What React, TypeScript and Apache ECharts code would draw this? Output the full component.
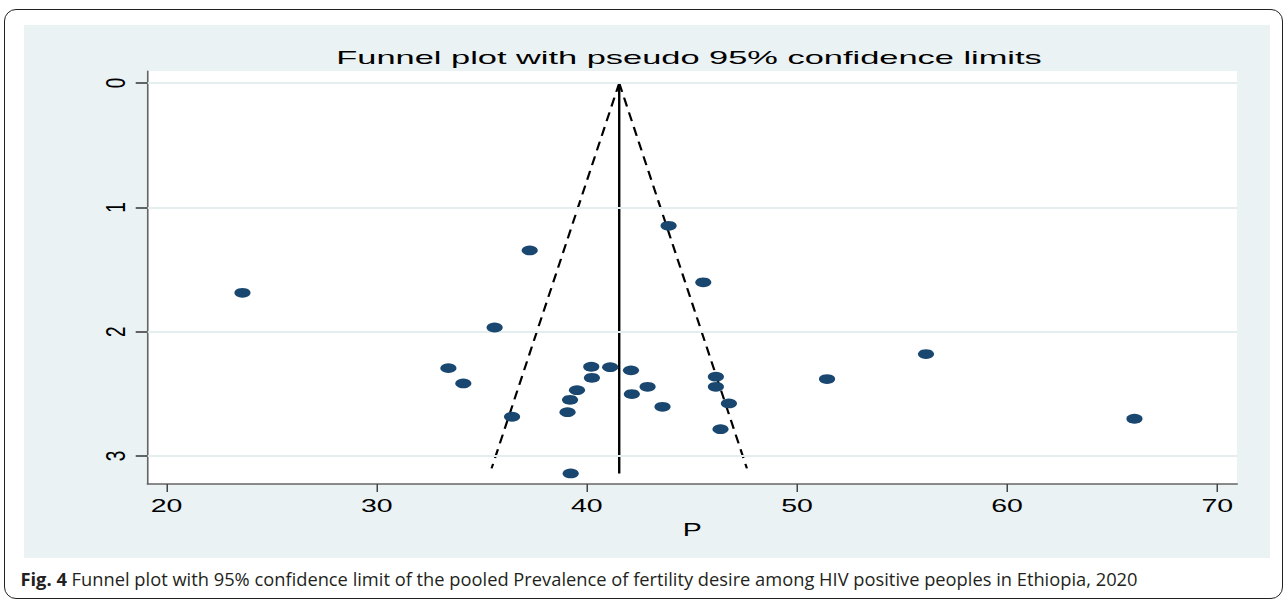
import React, { useEffect, useRef } from 'react';
import * as echarts from 'echarts';

// Study prevalence estimates (P) and their standard errors (s.e.)
const pValues = [23.61, 37.28, 35.61, 33.41, 34.12, 43.89, 45.54, 40.21, 41.11, 42.10, 40.24, 46.14, 42.89, 46.14, 39.53, 42.14, 39.20, 46.76, 43.60, 39.08, 36.44, 46.36, 39.23, 51.43, 56.14, 66.06];
const seValues = [1.687, 1.346, 1.966, 2.293, 2.416, 1.148, 1.603, 2.282, 2.285, 2.311, 2.371, 2.362, 2.443, 2.443, 2.470, 2.502, 2.548, 2.577, 2.604, 2.647, 2.684, 2.784, 3.140, 2.381, 2.180, 2.700];
const xTicks = [20, 30, 40, 50, 60, 70];
const yTicks = [0, 1, 2, 3];
const pooledP = 41.54;
const funnelSe = 3.1;
const pooledLineSe = 3.14;
const zCrit = 1.96;

const titleText = 'Funnel plot with pseudo 95% confidence limits';
const xName = 'P';
const captionBold = 'Fig. 4';
const captionRest = ' Funnel plot with 95% confidence limit of the pooled Prevalence of fertility desire among HIV positive peoples in Ethiopia, 2020';

const S = 1.5; // horizontal stretch of the original figure
const W = 1288;
const H = 601;
const FONT = 'Liberation Sans, Arial, Helvetica, sans-serif';
const CAP_FONT = 'Open Sans, Noto Sans, sans-serif';

export default function App() {
  const ref = useRef<HTMLDivElement>(null);
  useEffect(() => {
    if (!ref.current) return;
    const chart = echarts.init(ref.current, null, { renderer: 'svg', width: W / S, height: H });
    const pts = pValues.map((p, i) => [p, seValues[i]]);
    chart.setOption({
      animation: false,
      graphic: [
        {
          type: 'rect', z: -10, silent: true,
          shape: { x: 24 / S, y: 25, width: (1270 - 24) / S, height: 533 },
          style: { fill: '#eaf2f3' },
        },
        {
          type: 'text', z: 10, x: 689 / S, y: 57.5, scaleX: 1.24,
          style: { text: titleText, fontSize: 18.5, fontFamily: FONT, fill: '#000', textAlign: 'center', textVerticalAlign: 'middle' },
        },
        {
          type: 'text', z: 10, x: 20.5 / S, y: 579, scaleX: 1 / S,
          style: {
            text: '{b|' + captionBold + '}' + captionRest,
            fontSize: 18.3, fontFamily: CAP_FONT, fill: '#231f20',
            textAlign: 'left', textVerticalAlign: 'middle',
            rich: { b: { fontWeight: 'bold', fontSize: 18.3, fontFamily: CAP_FONT, fill: '#231f20' } },
          },
        },
      ],
      grid: {
        left: 147.7 / S, top: 71, width: (1237 - 147.7) / S, height: 413,
        show: true, backgroundColor: '#ffffff', borderWidth: 0, containLabel: false,
      },
      xAxis: {
        type: 'value', min: 19.1, max: 70.94,
        name: xName, nameLocation: 'middle', nameGap: 31,
        nameTextStyle: { fontSize: 19, fontFamily: FONT, color: '#000' },
        axisLine: { show: true, onZero: false, lineStyle: { color: '#666', width: 1.6 } },
        axisTick: { show: true, customValues: xTicks, length: 8, lineStyle: { color: '#444', width: 1 } },
        axisLabel: { customValues: xTicks, fontSize: 19, fontFamily: FONT, color: '#000', margin: 12 },
        splitLine: { show: false },
      },
      yAxis: {
        type: 'value', inverse: true, min: -0.097, max: 3.225,
        axisLine: { show: true, onZero: false, lineStyle: { color: '#666', width: 1.1 } },
        axisTick: { show: true, customValues: yTicks, length: 8, lineStyle: { color: '#333', width: 1.5 } },
        axisLabel: { customValues: yTicks, rotate: 90, fontSize: 19, fontFamily: FONT, color: '#000', margin: 12 },
        splitLine: { show: false },
      },
      series: [
        {
          type: 'line', data: [], z: 1, silent: true,
          markLine: {
            silent: true, symbol: ['none', 'none'], label: { show: false },
            lineStyle: { color: '#e4eeef', width: 2, type: 'solid' },
            data: yTicks.map((v) => ({ yAxis: v })),
          },
        },
        {
          type: 'line', z: 3, silent: true, showSymbol: false, symbol: 'none',
          data: [[pooledP, 0], [pooledP, pooledLineSe]],
          lineStyle: { color: '#000', width: 1.6, type: 'solid' },
        },
        {
          type: 'line', z: 3, silent: true, showSymbol: false, symbol: 'none',
          data: [[pooledP, 0], [pooledP - zCrit * funnelSe, funnelSe]],
          lineStyle: { color: '#000', width: 1.5, type: [9, 6] },
        },
        {
          type: 'line', z: 3, silent: true, showSymbol: false, symbol: 'none',
          data: [[pooledP, 0], [pooledP + zCrit * funnelSe, funnelSe]],
          lineStyle: { color: '#000', width: 1.5, type: [9, 6] },
        },
        {
          type: 'scatter', z: 5, data: pts, symbol: 'circle', symbolSize: [10.8, 9.8],
          itemStyle: { color: '#1a476f', borderWidth: 0, opacity: 1 },
        },
      ],
    });
    return () => chart.dispose();
  }, []);

  return (
    <div style={{ position: 'fixed', left: 0, top: 0, width: W, height: H, background: '#fff', overflow: 'hidden' }}>
      <div style={{ position: 'absolute', left: 4, top: 9, width: 1279, height: 590, border: '1.5px solid #222', borderRadius: 12, boxSizing: 'border-box' }} />
      <div
        ref={ref}
        style={{ position: 'absolute', left: 0, top: 0, width: W / S, height: H, transform: `scaleX(${S})`, transformOrigin: '0 0' }}
      />
    </div>
  );
}
